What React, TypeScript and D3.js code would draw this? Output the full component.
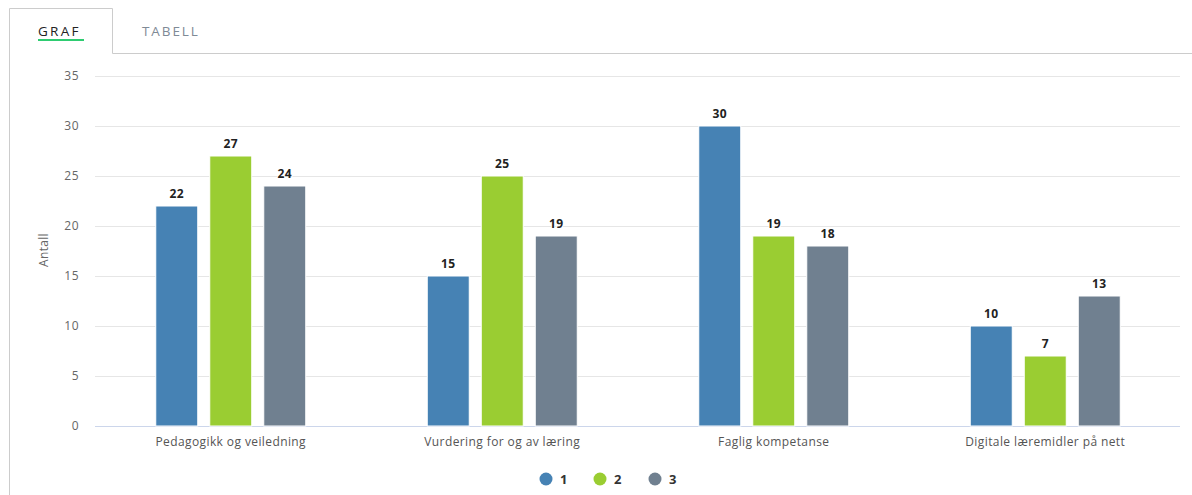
import React from "react";
import * as d3 from "d3";

const categories = ["Pedagogikk og veiledning", "Vurdering for og av læring", "Faglig kompetanse", "Digitale læremidler på nett"];
const seriesNames = ["1", "2", "3"];
const series1 = [22, 15, 30, 10];
const series2 = [27, 25, 19, 7];
const series3 = [24, 19, 18, 13];
const yTicks = [0, 5, 10, 15, 20, 25, 30, 35];
const colors = ["#4682B4", "#9ACD32", "#708090"];

const W = 1192, H = 495;
const plotLeft = 95, plotRight = 1181, plotTop = 76, plotBottom = 426;

export default function App() {
  const allSeries = [series1, series2, series3];
  const x = d3.scaleBand<string>().domain(categories).range([plotLeft, plotRight]).paddingInner(0).paddingOuter(0);
  const y = d3.scaleLinear().domain([0, 35]).range([plotBottom, plotTop]);
  const groupW = 150;
  const x1 = d3.scaleBand<string>().domain(seriesNames).range([0, groupW]).paddingInner(12 / 54).paddingOuter(0);
  const font = "'Open Sans', 'DejaVu Sans', sans-serif";
  const legendX = [546, 600, 655];
  return (
    <div style={{ position: "fixed", left: 0, top: 0, width: W, height: H, background: "#fff" }}>
      <svg width={W} height={H} style={{ display: "block" }} fontFamily={font}>
        {/* tab frame */}
        <path d={`M9.5,${H} V8.5 H112.5 V53.5 H${W}`} fill="none" stroke="#cccccc" strokeWidth={1} />
        <text x={38} y={36} fontSize={13.5} fontWeight={500} letterSpacing={2.3} fill="#222" fontFamily="'Open Sans', 'Lato', sans-serif">GRAF</text>
        <rect x={38} y={39} width={46} height={2} fill="#2ecc71" />
        <text x={142} y={36} fontSize={13.5} fontWeight={500} letterSpacing={1.9} fill="#7f8a96" fontFamily="'Open Sans', 'Lato', sans-serif">TABELL</text>

        {/* grid */}
        {yTicks.map((t) => (
          <g key={t}>
            {t !== 0 && <line x1={plotLeft} x2={1180} y1={y(t) + 0.5} y2={y(t) + 0.5} stroke="#e6e6e6" />}
            <text x={79} y={y(t) + 4} textAnchor="end" fontSize={12} letterSpacing={0.5} fill="#666">{t}</text>
          </g>
        ))}
        <line x1={plotLeft} x2={1180} y1={plotBottom + 0.5} y2={plotBottom + 0.5} stroke="#ccd6eb" />
        <text transform={`translate(48,250) rotate(-90)`} textAnchor="middle" fontSize={12} letterSpacing={0.3} fill="#666">Antall</text>

        {/* bars */}
        {categories.map((c, i) => {
          const gx = (x(c) as number) + x.bandwidth() / 2 - groupW / 2;
          return (
            <g key={c}>
              {allSeries.map((s, j) => {
                const bx = gx + (x1(seriesNames[j]) as number);
                const bw = x1.bandwidth();
                return (
                  <g key={j}>
                    <rect x={bx} y={y(s[i])} width={bw} height={plotBottom - y(s[i])} fill={colors[j]} stroke="#fff" strokeWidth={1} />
                    <text x={bx + bw / 2} y={y(s[i]) - 8} textAnchor="middle" fontSize={12} fontWeight="bold" letterSpacing={0.3} fill="#222" stroke="#fff" strokeWidth={2} paintOrder="stroke">{s[i]}</text>
                  </g>
                );
              })}
              <text x={(x(c) as number) + x.bandwidth() / 2} y={446} textAnchor="middle" fontSize={12} letterSpacing={0.4} fill="#555">{c}</text>
            </g>
          );
        })}

        {/* legend */}
        {seriesNames.map((n, j) => (
          <g key={n}>
            <circle cx={legendX[j]} cy={479} r={6.5} fill={colors[j]} />
            <text x={legendX[j] + 14} y={484} fontSize={13} fontWeight="bold" fill="#333">{n}</text>
          </g>
        ))}
      </svg>
    </div>
  );
}
